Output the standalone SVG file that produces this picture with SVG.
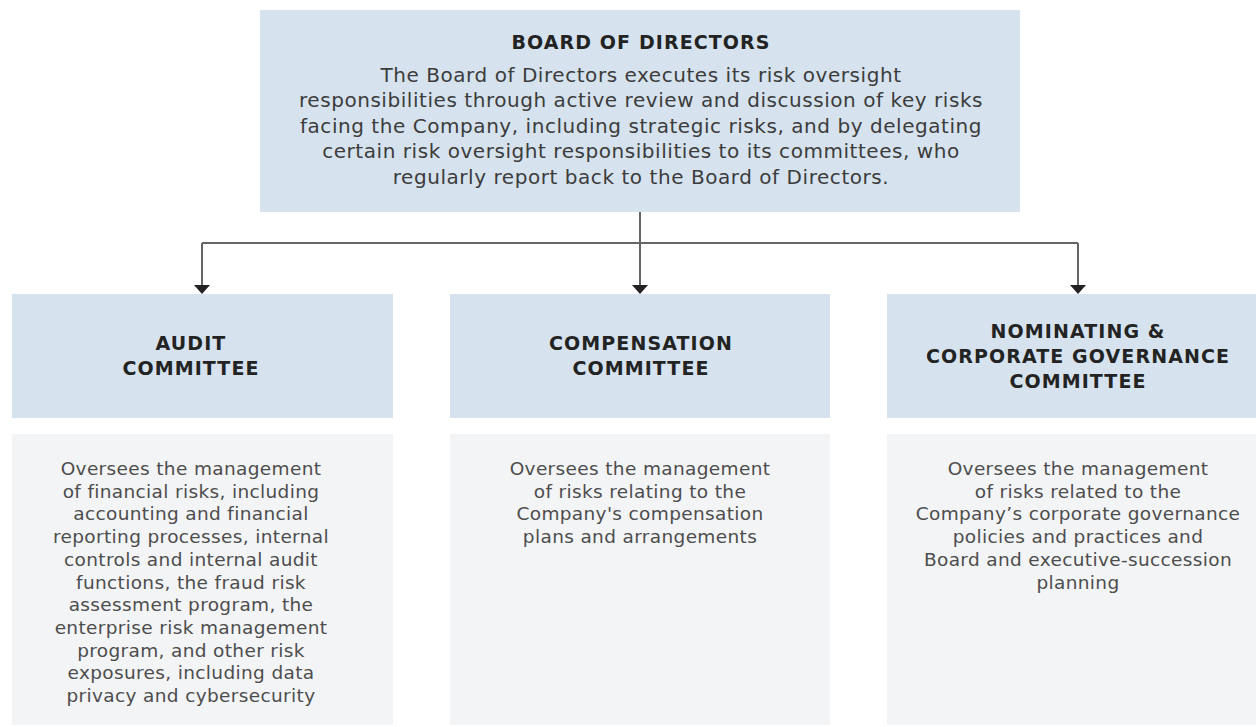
<svg xmlns="http://www.w3.org/2000/svg" width="1256" height="727" viewBox="0 0 1256 727">
<style>
.hdr{fill:#d6e3ef}
.body{fill:#f3f4f6}
.t{font-family:"DejaVu Sans","Liberation Sans",sans-serif;text-anchor:middle}
.b{font-weight:bold;font-size:19px;letter-spacing:1.1px;fill:#232323}
.top{font-size:20px;letter-spacing:0.55px;fill:#3c3c3c}
.s{font-size:18.5px;letter-spacing:0.35px;fill:#4d4d4d}
.conn{fill:none;stroke:#666;stroke-width:2}
</style>
<defs>
<marker id="arr" viewBox="0 0 9 16" refX="3" refY="8" markerWidth="9" markerHeight="16" markerUnits="userSpaceOnUse" orient="auto">
<path d="M0,0 L9,8 L0,16 z" fill="#222"/>
</marker>
</defs>
<rect width="1256" height="727" fill="#ffffff"/>

<g id="connectors">
<path class="conn" d="M640,212 V243"/>
<path class="conn" d="M202,243 H1078"/>
<path class="conn" d="M202,243 V288" marker-end="url(#arr)"/>
<path class="conn" d="M640,243 V288" marker-end="url(#arr)"/>
<path class="conn" d="M1078,243 V288" marker-end="url(#arr)"/>
</g>

<g id="board">
<rect class="hdr" x="260" y="10" width="760" height="202"/>
<text class="t b" x="641" y="49">BOARD OF DIRECTORS</text>
<text class="t top" x="641" y="81.5">The Board of Directors executes its risk oversight</text>
<text class="t top" x="641" y="107">responsibilities through active review and discussion of key risks</text>
<text class="t top" x="641" y="132.5">facing the Company, including strategic risks, and by delegating</text>
<text class="t top" x="641" y="158">certain risk oversight responsibilities to its committees, who</text>
<text class="t top" x="641" y="183.5">regularly report back to the Board of Directors.</text>
</g>

<g id="audit-committee">
<rect class="hdr" x="12" y="294" width="381" height="124"/>
<text class="t b" x="191" y="350">AUDIT</text>
<text class="t b" x="191" y="375">COMMITTEE</text>
</g>
<g id="audit-body">
<rect class="body" x="12" y="434" width="381" height="291"/>
<text class="t s" x="191" y="475">Oversees the management</text>
<text class="t s" x="191" y="497.7">of financial risks, including</text>
<text class="t s" x="191" y="520.4">accounting and financial</text>
<text class="t s" x="191" y="543.1">reporting processes, internal</text>
<text class="t s" x="191" y="565.8">controls and internal audit</text>
<text class="t s" x="191" y="588.5">functions, the fraud risk</text>
<text class="t s" x="191" y="611.2">assessment program, the</text>
<text class="t s" x="191" y="633.9">enterprise risk management</text>
<text class="t s" x="191" y="656.6">program, and other risk</text>
<text class="t s" x="191" y="679.3">exposures, including data</text>
<text class="t s" x="191" y="702">privacy and cybersecurity</text>
</g>

<g id="compensation-committee">
<rect class="hdr" x="450" y="294" width="380" height="124"/>
<text class="t b" x="641" y="350">COMPENSATION</text>
<text class="t b" x="641" y="375">COMMITTEE</text>
</g>
<g id="compensation-body">
<rect class="body" x="450" y="434" width="380" height="291"/>
<text class="t s" x="640" y="475">Oversees the management</text>
<text class="t s" x="640" y="497.7">of risks relating to the</text>
<text class="t s" x="640" y="520.4">Company's compensation</text>
<text class="t s" x="640" y="543.1">plans and arrangements</text>
</g>

<g id="nominating-committee">
<rect class="hdr" x="887" y="294" width="380" height="124"/>
<text class="t b" x="1078" y="337.5">NOMINATING &amp;</text>
<text class="t b" x="1078" y="362.5">CORPORATE GOVERNANCE</text>
<text class="t b" x="1078" y="387.5">COMMITTEE</text>
</g>
<g id="nominating-body">
<rect class="body" x="887" y="434" width="380" height="291"/>
<text class="t s" x="1078" y="475">Oversees the management</text>
<text class="t s" x="1078" y="497.7">of risks related to the</text>
<text class="t s" x="1078" y="520.4">Company’s corporate governance</text>
<text class="t s" x="1078" y="543.1">policies and practices and</text>
<text class="t s" x="1078" y="565.8">Board and executive-succession</text>
<text class="t s" x="1078" y="588.5">planning</text>
</g>
</svg>
